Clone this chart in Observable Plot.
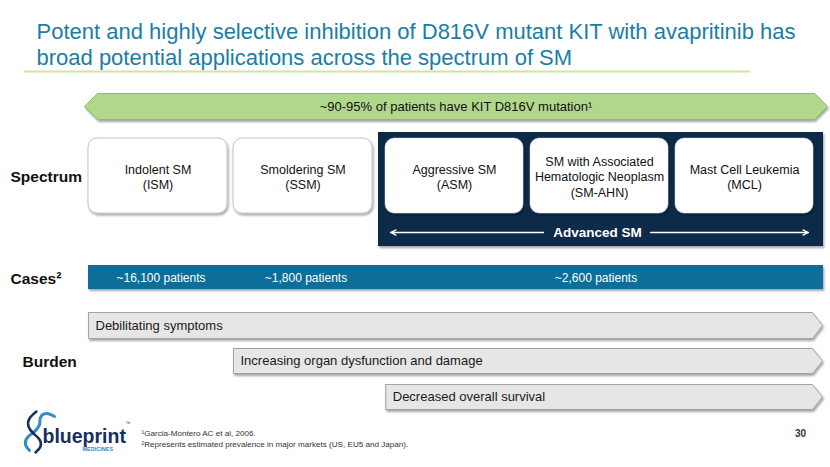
<!DOCTYPE html>
<html><head><meta charset="utf-8">
<script src="https://cdn.jsdelivr.net/npm/d3@7"></script>
<script src="https://cdn.jsdelivr.net/npm/@observablehq/plot@0.6"></script>
<style>body{margin:0;background:#fff} svg{display:block}</style>
</head><body><div id="chart"></div>
<script>
// ---------- content ----------
const titleLines = ["Potent and highly selective inhibition of D816V mutant KIT with avapritinib has",
                    "broad potential applications across the spectrum of SM"];
const stages = ["ISM", "SSM", "ASM", "SM-AHN", "MCL"];
const stageLabels = ["Indolent SM\n(ISM)", "Smoldering SM\n(SSM)", "Aggressive SM\n(ASM)",
                     "SM with Associated\nHematologic Neoplasm\n(SM-AHN)", "Mast Cell Leukemia\n(MCL)"];
const advancedStages = ["ASM", "SM-AHN", "MCL"];
const mutationLabel = "~90-95% of patients have KIT D816V mutation¹";
const advancedLabel = "Advanced SM";
const rowLabels = ["Spectrum", "Cases²", "Burden"];
const caseLabels = ["~16,100 patients", "~1,800 patients", "~2,600 patients"];
const caseStart = [0, 1, 2];
const caseEnd = [1, 2, 5];
const burdenLabels = ["Debilitating symptoms", "Increasing organ dysfunction and damage", "Decreased overall survival"];
const burdenStart = [0, 1, 2.05];
const footnotes = ["¹Garcia-Montero AC et al, 2006.",
                   "²Represents estimated prevalence in major markets (US, EU5 and Japan)."];
const pageNumber = "30";

// ---------- layout (pixels -> stage units) ----------
const X0 = 88, STEP = 145;
const xs = p => (p - X0) / STEP;
const FONT = "'Liberation Sans', Arial, Helvetica, sans-serif";

function arrowShape(id, left, right, yT, yB, headL, headR) {
  const ym = (yT + yB) / 2;
  const pts = [];
  if (headL) pts.push([left, ym], [left + headL, yT]); else pts.push([left, yT]);
  if (headR) pts.push([right - headR, yT], [right, ym], [right - headR, yB]); else pts.push([right, yT], [right, yB]);
  if (headL) pts.push([left + headL, yB], [left, ym]); else pts.push([left, yB], [left, yT]);
  return pts.map(([x, y]) => ({id, x, y}));
}

const greenArrow = arrowShape("mut", xs(84), xs(827), 93, 119, xs(97) - xs(84), xs(827) - xs(814));
const burdenRows = [[312, 338], [348, 373], [384, 409]];
const burdenShapes = burdenLabels.flatMap((b, i) =>
  arrowShape(b, burdenStart[i], xs(822), burdenRows[i][0], burdenRows[i][1], 0, xs(822) - xs(812)));

const boxes = stages.map((s, i) => ({stage: s, label: stageLabels[i], i, adv: advancedStages.includes(s)}));
const cases = caseLabels.map((c, i) => ({label: c, x1: caseStart[i], x2: caseEnd[i]}));
const burden = burdenLabels.map((b, i) => ({label: b, x: burdenStart[i], y: (burdenRows[i][0] + burdenRows[i][1]) / 2}));
const rows = [
  {label: rowLabels[0], x: xs(10), y: 177},
  {label: rowLabels[1], x: xs(10), y: 279},
  {label: rowLabels[2], x: xs(22), y: 362}
];

const swirlA = [[36,411],[29,418],[28,426],[33,433],[39,439],[40,446],[35,452]].map(([x,y]) => ({x: xs(x), y}));
const swirlB = [[29,450],[25,444],[27,437],[34,431],[39,424],[40,417],[46,413],[54,416]].map(([x,y]) => ({x: xs(x), y}));

// drop shadow via render transform
const shadow = (index, scales, values, dims, ctx, next) => {
  const g = next(index, scales, values, dims, ctx);
  g.setAttribute("filter", "url(#sh)");
  return g;
};

const chart = Plot.plot({
  width: 830, height: 467, margin: 0,
  x: {domain: [0, 5], range: [X0, X0 + 5 * STEP], axis: null},
  y: {domain: [0, 467], range: [0, 467], axis: null},
  style: {fontFamily: FONT, background: "white"},
  marks: [
    // title
    Plot.text(titleLines, {x: xs(36), y: (d, i) => 31 + i * 26, text: d => d, textAnchor: "start",
      fontSize: 22, fill: "#1b7da6"}),
    Plot.ruleY([71], {x1: xs(24), x2: xs(750), stroke: "#cfe69f", strokeWidth: 2}),

    // green mutation arrow
    Plot.line(greenArrow, {x: "x", y: "y", z: "id", fill: "#b1d78b", stroke: "#93bd63", strokeWidth: 1, render: shadow}),
    Plot.text([mutationLabel], {x: (xs(84) + xs(827)) / 2, y: 106, text: d => d, fontSize: 13, fill: "#111"}),

    // advanced panel
    Plot.rect([advancedLabel], {x1: 2, x2: xs(823), y1: 132, y2: 246, fill: "#0d2b48", render: shadow}),

    // spectrum boxes
    Plot.rect(boxes.filter(d => !d.adv), {x1: d => d.i, x2: d => d.i + 1, y1: 138, y2: 213, insetRight: 6,
      rx: 9, fill: "white", stroke: "#c4c4c4", strokeWidth: 1, render: shadow}),
    Plot.rect(boxes.filter(d => d.adv), {x1: d => d.i, x2: d => d.i + 1, y1: 138, y2: 213, insetLeft: 7,
      rx: 9, fill: "white", stroke: "#d0d0d0", strokeWidth: 0.5, render: shadow}),
    Plot.text(boxes.filter(d => !d.adv), {x: d => d.i + 0.5 - xs(X0 + 3), y: 176, text: "label",
      fontSize: 12.5, lineHeight: 1.22, fill: "#111"}),
    Plot.text(boxes.filter(d => d.adv), {x: d => d.i + 0.5 + xs(X0 + 3.5), y: 176, text: "label",
      fontSize: 12.5, lineHeight: 1.22, fill: "#111"}),

    // advanced SM label + arrows
    Plot.arrow([0, 1], {x1: d => d ? xs(650) : xs(543), x2: d => d ? xs(808) : xs(390), y1: 232, y2: 232,
      stroke: "white", strokeWidth: 1.3, headLength: 7, headAngle: 50}),
    Plot.text([advancedLabel], {x: xs(597), y: 232, text: d => d, fontSize: 13.5, fontWeight: "bold", fill: "white"}),

    // cases bar
    Plot.rect([caseEnd], {x1: 0, x2: xs(823), y1: 265, y2: 289, fill: "#0a6e99", render: shadow}),
    Plot.text(cases, {x: d => (d.x1 + d.x2) / 2, y: 278, text: "label", fontSize: 12, fill: "white"}),

    // burden arrows
    Plot.line(burdenShapes, {x: "x", y: "y", z: "id", fill: "#e6e6e6", stroke: "#a3a3a3", strokeWidth: 1, render: shadow}),
    Plot.text(burden, {x: "x", y: "y", text: "label", textAnchor: "start", dx: 7, fontSize: 13, fill: "#1a1a1a"}),

    // row labels
    Plot.text(rows, {x: "x", y: "y", text: "label", textAnchor: "start", fontSize: 15.5, fontWeight: "bold", fill: "#111"}),

    // logo
    Plot.line(swirlB, {x: "x", y: "y", curve: "natural", stroke: "#2f8cc5", strokeWidth: 3}),
    Plot.line(swirlA, {x: "x", y: "y", curve: "natural", stroke: "#172f5c", strokeWidth: 2.5}),
    Plot.text(["blueprint"], {x: xs(42), y: 436, text: d => d, textAnchor: "start", fontSize: 19.5,
      fontWeight: "bold", fill: "#172f5c", letterSpacing: "-0.4px"}),
    Plot.text(["™"], {x: xs(125), y: 423, text: d => d, textAnchor: "start", fontSize: 5, fill: "#172f5c"}),
    Plot.text(["MEDICINES"], {x: xs(82), y: 449, text: d => d, textAnchor: "start", fontSize: 5.5,
      fontWeight: "bold", fill: "#2f8cc5", letterSpacing: "2.2px"}),

    // footnotes & page number
    Plot.text(footnotes, {x: xs(141), y: (d, i) => 433 + i * 11, text: d => d, textAnchor: "start", fontSize: 8.1, fill: "#333"}),
    Plot.text([pageNumber], {x: xs(800), y: 433, text: d => d, fontSize: 10, fontWeight: "bold", fill: "#333"})
  ]
});

const ns = "http://www.w3.org/2000/svg";
const defs = document.createElementNS(ns, "defs");
defs.innerHTML = '<filter id="sh" x="-5%" y="-20%" width="110%" height="160%"><feDropShadow dx="1.2" dy="2" stdDeviation="1.3" flood-color="#000" flood-opacity="0.35"/></filter>';
chart.prepend(defs);
document.getElementById("chart").appendChild(chart);
</script>
</body></html>
